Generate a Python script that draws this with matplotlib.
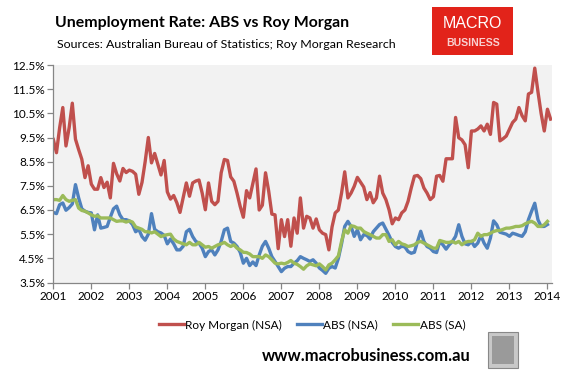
import matplotlib
matplotlib.use("Agg")
import matplotlib.pyplot as plt
from matplotlib.patches import Rectangle
import numpy as np

plt.rcParams['font.family'] = ['Lato', 'DejaVu Sans']

# ---- data (monthly, starting Jan 2001) ----
roy_morgan_nsa = [
    9.42, 8.87, 9.9, 10.74, 9.15, 9.9, 10.92, 9.43, 9.0, 8.6,
    7.84, 8.33, 7.57, 7.36, 7.36, 7.84, 7.43, 7.65, 7.0, 8.43,
    8.0, 7.7, 8.22, 8.05, 8.15, 8.1, 7.98, 7.15, 7.64, 8.5,
    9.5, 8.45, 8.84, 8.39, 7.95, 8.55, 7.25, 6.95, 7.1, 6.8,
    6.4, 7.0, 7.62, 7.07, 7.62, 7.7, 7.74, 7.2, 6.51, 7.62,
    6.86, 6.72, 6.86, 8.04, 8.59, 8.55, 7.87, 7.69, 7.2, 6.65,
    6.2, 7.3, 7.0, 7.6, 8.2, 6.5, 6.7, 8.04, 7.28, 6.33,
    6.3, 4.9, 6.1, 5.4, 6.1, 5.0, 6.17, 5.54, 7.0, 5.75,
    6.24, 6.17, 5.75, 6.13, 5.68, 5.54, 5.48, 4.85, 5.8, 6.38,
    6.5, 7.2, 8.08, 7.0, 7.2, 7.48, 7.85, 7.65, 7.45, 6.93,
    7.22, 6.8, 7.0, 7.9, 7.2, 6.93, 6.51, 5.93, 6.17, 6.1,
    6.38, 6.5, 6.86, 7.41, 7.9, 7.93, 7.8, 7.41, 7.2, 6.93,
    7.05, 7.9, 7.93, 7.69, 8.62, 8.62, 8.62, 10.33, 9.49, 9.4,
    9.2, 8.25, 9.77, 9.77, 9.85, 9.98, 9.77, 10.05, 9.63, 10.95,
    10.88, 9.36, 9.45, 9.56, 9.84, 10.12, 10.26, 10.74, 10.4, 10.19,
    11.3, 11.37, 12.37, 11.4, 10.5, 9.77, 10.67, 10.26,
]
abs_nsa = [
    6.4, 6.35, 6.72, 6.79, 6.49, 6.6, 6.75, 7.55, 7.0, 6.55,
    6.45, 6.4, 6.38, 5.68, 6.3, 5.75, 5.78, 5.82, 6.2, 6.55,
    6.66, 6.3, 6.1, 6.1, 6.05, 5.9, 5.6, 5.7, 5.4, 5.25,
    5.5, 6.35, 5.7, 5.6, 5.55, 5.45, 5.1, 5.3, 5.1, 4.85,
    4.85, 5.0, 5.6, 5.7, 5.4, 5.2, 5.13, 4.92, 4.57, 4.78,
    4.85, 4.64, 4.85, 5.2, 5.68, 5.75, 5.2, 5.13, 4.99, 4.75,
    4.3, 4.5, 4.2, 4.35, 4.2, 4.64, 5.0, 5.2, 4.92, 4.57,
    4.37, 4.16, 3.95, 4.09, 4.16, 4.16, 4.3, 4.4, 4.57, 4.5,
    4.44, 4.37, 4.44, 4.3, 4.1, 4.0, 3.88, 4.09, 4.16, 4.1,
    4.5, 5.1, 5.82, 6.03, 5.82, 5.41, 5.68, 5.27, 5.48, 5.45,
    5.3, 5.6, 5.75, 5.9, 5.96, 5.7, 5.45, 5.16, 4.99, 4.92,
    5.0, 4.97, 4.78, 4.71, 4.75, 5.2, 5.62, 5.2, 4.99, 4.92,
    4.78, 4.74, 5.2, 5.06, 4.88, 5.06, 5.2, 5.41, 5.89, 5.41,
    5.1, 5.06, 5.2, 4.99, 5.13, 5.44, 5.13, 4.92, 5.34, 6.05,
    5.89, 5.58, 5.54, 5.5, 5.41, 5.54, 5.5, 5.45, 5.41, 5.6,
    6.1, 6.45, 6.78, 6.1, 5.82, 5.82, 5.9,
]
abs_sa = [
    6.93, 6.93, 6.9, 7.1, 6.93, 6.86, 6.9, 6.93, 6.58, 6.48,
    6.45, 6.38, 6.3, 6.24, 6.26, 6.17, 6.17, 6.17, 6.17, 6.1,
    6.03, 6.05, 6.05, 6.0, 6.05, 6.0, 5.8, 5.75, 5.7, 5.6,
    5.6, 5.55, 5.6, 5.5, 5.4, 5.45, 5.48, 5.5, 5.3, 5.2,
    5.15, 5.1, 5.06, 5.16, 5.06, 5.06, 5.16, 5.06, 4.96, 4.99,
    4.92, 4.99, 5.06, 5.1, 5.16, 5.06, 4.99, 5.06, 4.92, 4.85,
    4.75, 4.74, 4.68, 4.57, 4.57, 4.57, 4.5, 4.64, 4.57, 4.44,
    4.3, 4.27, 4.3, 4.27, 4.33, 4.41, 4.3, 4.25, 4.16, 4.05,
    4.19, 4.27, 4.23, 4.19, 4.27, 4.16, 4.02, 4.23, 4.3, 4.44,
    4.6, 5.2, 5.68, 5.54, 5.85, 5.82, 5.75, 5.75, 5.61, 5.54,
    5.48, 5.41, 5.34, 5.34, 5.48, 5.48, 5.2, 5.27, 5.06, 5.2,
    5.1, 5.06, 4.99, 5.02, 5.06, 5.16, 5.2, 5.13, 5.06, 4.99,
    4.92, 4.92, 5.24, 5.2, 5.16, 5.16, 5.2, 5.13, 5.2, 5.06,
    5.16, 5.2, 5.2, 5.27, 5.54, 5.41, 5.48, 5.48, 5.54, 5.61,
    5.65, 5.65, 5.7, 5.75, 5.75, 5.78, 5.82, 5.82, 5.85, 5.93,
    5.99, 6.03, 5.96, 5.82, 5.82, 5.89, 6.03,
]
start_year = 2001
year_ticks = list(range(2001, 2015))
y_ticks = [3.5, 4.5, 5.5, 6.5, 7.5, 8.5, 9.5, 10.5, 11.5, 12.5]
series_names = ["Roy Morgan (NSA)", "ABS (NSA)", "ABS (SA)"]
colors = ["#C0504D", "#4F81BD", "#9BBB59"]

W, H = 571, 373
fig = plt.figure(figsize=(W / 100, H / 100), dpi=100)
fig.patch.set_facecolor("white")

def fx(px):
    return px / W

def fy(py):
    return 1 - py / H

ax = fig.add_axes([fx(53.3), fy(282.5), fx(552) - fx(53.3), fy(65) - fy(282.5)])
ax.set_facecolor("#F2F2F2")

for vals, name, c in zip([roy_morgan_nsa, abs_nsa, abs_sa], series_names, colors):
    x = start_year + np.arange(len(vals)) / 12.0
    ax.plot(x, vals, color=c, lw=2.4, label=name, solid_joinstyle="round")

ax.set_xlim(2001, 2014.12)
ax.set_ylim(3.5, 12.5)
ax.set_xticks(year_ticks)
ax.set_xticklabels([str(y) for y in year_ticks])
ax.set_yticks(y_ticks)
ax.set_yticklabels([f"{v:.1f}%" for v in y_ticks])
for s in ["top", "right"]:
    ax.spines[s].set_visible(False)
for s in ["left", "bottom"]:
    ax.spines[s].set_color("#868686")
    ax.spines[s].set_linewidth(0.9)
ax.tick_params(axis="both", direction="out", length=4, width=0.9, color="#868686",
               labelsize=8.5, labelcolor="#000000", pad=2)

# title / subtitle
fig.text(fx(55), fy(23), "Unemployment Rate: ABS vs Roy Morgan", fontsize=11.4,
         fontweight="bold", ha="left", va="center", color="#000000")
fig.text(fx(57), fy(45), "Sources: Australian Bureau of Statistics; Roy Morgan Research",
         fontsize=8.9, ha="left", va="center", color="#000000")

# logo box
logo = Rectangle((fx(432), fy(55)), fx(513) - fx(432), fy(7) - fy(55),
                 transform=fig.transFigure, facecolor="#E2231A", edgecolor="none")
fig.patches.append(logo)
fig.text(fx(472.5), fy(24), "MACRO", fontsize=11.5, color="white", ha="center", va="center",
         family=["Liberation Sans", "DejaVu Sans"])
fig.text(fx(473), fy(43), "BUSINESS", fontsize=7.6, color="#F8D0D0", ha="center", va="center",
         family=["Liberation Sans", "DejaVu Sans"], fontweight="bold")

# legend
leg = fig.legend(loc="center", bbox_to_anchor=(fx(312), fy(325)), ncol=3, frameon=False,
                 fontsize=8.5, handlelength=2.1, handletextpad=0.15, columnspacing=1.25)

# website
fig.text(fx(366.5), fy(356), "www.macrobusiness.com.au", fontsize=11.9, fontweight="bold",
         ha="center", va="center", color="#000000")

# wolf picture placeholder
pic = Rectangle((fx(488), fy(368)), fx(518) - fx(488), fy(332) - fy(368),
                transform=fig.transFigure, facecolor="#C8C8C8", edgecolor="#888888", lw=0.8)
fig.patches.append(pic)
inner = Rectangle((fx(492), fy(364)), fx(514) - fx(492), fy(336) - fy(364),
                  transform=fig.transFigure, facecolor="#9A9A9A", edgecolor="none")
fig.patches.append(inner)

fig.savefig("out.png", dpi=100)
